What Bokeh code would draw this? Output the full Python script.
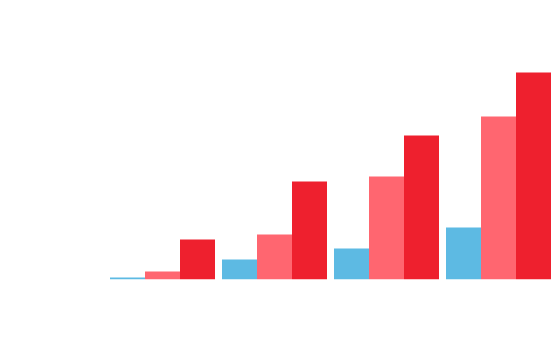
from bokeh.plotting import figure
from bokeh.models import ColumnDataSource, FactorRange, Range1d
from bokeh.transform import dodge
from bokeh.embed import file_html
from bokeh.resources import INLINE

categories = ["A", "B", "C", "D"]
series1 = [2, 20, 31, 52]
series2 = [8, 45, 103, 163]
series3 = [40, 98, 144, 207]

colors = ["#5DBAE3", "#FF6670", "#EE202E"]

source = ColumnDataSource(data=dict(cat=categories, s1=series1, s2=series2, s3=series3))

p = figure(width=556, height=357, x_range=FactorRange(factors=categories, range_padding=0),
           y_range=Range1d(0, 279), output_backend="svg", toolbar_location=None,
           x_axis_location=None, y_axis_location=None,
           min_border_left=106, min_border_right=2, min_border_top=0, min_border_bottom=78)
p.grid.visible = False
p.outline_line_color = None
p.background_fill_color = "white"
p.border_fill_color = "white"

w = 0.3125
for off, col, c in zip([-w, 0, w], ["s1", "s2", "s3"], colors):
    p.vbar(x=dodge("cat", off, range=p.x_range), top=col, width=w, bottom=0,
           source=source, fill_color=c, line_color=None)

open("out.html", "w").write(file_html(p, INLINE))
